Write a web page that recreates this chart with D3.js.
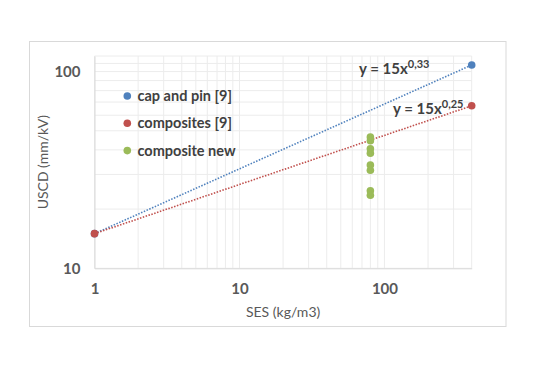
<!DOCTYPE html>
<html>
<head>
<meta charset="utf-8">
<script src="https://cdn.jsdelivr.net/npm/d3@7"></script>
<style>
  body { margin: 0; background: #fff; }
  text { font-family: Lato, "Open Sans", sans-serif; }
</style>
</head>
<body>
<div id="chart"></div>
<script>
// datos
const xTicks = [1, 10, 100];
const yTicks = [10, 100];

const capPinX = [1, 400];
const capPinY = [15, 108];

const compX = [1, 400];
const compY = [15, 67];

const newX = [80, 80, 80, 80, 80, 80, 80, 80];
const newY = [46.5, 44.5, 40.5, 38.5, 33.5, 31.5, 24.8, 23.5];

const legendNames = ["cap and pin [9]", "composites [9]", "composite new"];
const COLORS = ["#4F81BD", "#C0504D", "#9BBB59"];

// Dimensiones
const width = 538;
const height = 380;
const plot = { left: 94.5, right: 471.7, top: 56, bottom: 268.3 };

const svg = d3.select("#chart")
    .append("svg")
    .attr("width", width)
    .attr("height", height);

// borde del grafico
svg.append("rect")
    .attr("x", 29.5).attr("y", 41.5)
    .attr("width", 476.5).attr("height", 285)
    .attr("fill", "#fff")
    .attr("stroke", "#d9d9d9");

const x = d3.scaleLog().domain([1, 400]).range([plot.left, plot.right]);
const y = d3.scaleLog().domain([10, 120]).range([plot.bottom, plot.top]);

// gridlines
const xGrid = [];
for (let d = 1; d <= 100; d *= 10) {
    for (let k = 1; k <= 9; k++) if (d * k <= 400) xGrid.push(d * k);
}
const yGrid = d3.range(10, 121, 10);

svg.append("g")
    .selectAll("line")
    .data(xGrid)
    .join("line")
    .attr("x1", d => x(d)).attr("x2", d => x(d))
    .attr("y1", plot.top).attr("y2", plot.bottom)
    .attr("stroke", "#ececec");

svg.append("g")
    .selectAll("line")
    .data(yGrid)
    .join("line")
    .attr("x1", plot.left).attr("x2", plot.right)
    .attr("y1", d => y(d)).attr("y2", d => y(d))
    .attr("stroke", "#ececec");

// ejes
const ejeX = d3.axisBottom(x).tickValues(xTicks).tickFormat(d3.format("d")).tickSize(0).tickPadding(15);
const ejeY = d3.axisLeft(y).tickValues(yTicks).tickFormat(d3.format("d")).tickSize(0).tickPadding(14);

const gx = svg.append("g")
    .attr("transform", `translate(0, ${plot.bottom})`)
    .call(ejeX);
gx.select(".domain").attr("stroke", "#d9d9d9");
gx.selectAll("text").attr("fill", "#595959").style("font-size", "15px").style("font-weight", "bold")
    .style("font-family", "Lato, sans-serif");

const gy = svg.append("g")
    .attr("transform", `translate(${plot.left}, 0)`)
    .call(ejeY);
gy.select(".domain").attr("stroke", "#d9d9d9");
gy.selectAll("text").attr("fill", "#595959").style("font-size", "15px").style("font-weight", "bold")
    .style("font-family", "Lato, sans-serif");

// titulos de ejes
svg.append("text")
    .attr("x", (plot.left + plot.right) / 2)
    .attr("y", 317)
    .attr("text-anchor", "middle")
    .attr("fill", "#595959")
    .style("font-size", "14px")
    .text("SES (kg/m3)");

svg.append("text")
    .attr("transform", `translate(48, ${(plot.top + plot.bottom) / 2}) rotate(-90)`)
    .attr("text-anchor", "middle")
    .attr("fill", "#595959")
    .style("font-size", "14px")
    .text("USCD (mm/kV)");

// lineas de tendencia (potencia, recta en log-log)
const linea = d3.line().x(d => x(d[0])).y(d => y(d[1]));
const trends = [
    { pts: d3.zip(capPinX, capPinY), color: COLORS[0] },
    { pts: d3.zip(compX, compY), color: COLORS[1] }
];
svg.append("g")
    .selectAll("path")
    .data(trends)
    .join("path")
    .attr("d", d => linea(d.pts))
    .attr("fill", "none")
    .attr("stroke", d => d.color)
    .attr("stroke-width", 1.6)
    .attr("stroke-dasharray", "1.5 1.5");

// puntos
const series = [
    { xs: newX, ys: newY, color: COLORS[2] },
    { xs: capPinX, ys: capPinY, color: COLORS[0] },
    { xs: compX, ys: compY, color: COLORS[1] }
];
series.forEach(s => {
    svg.append("g")
        .selectAll("circle")
        .data(d3.zip(s.xs, s.ys))
        .join("circle")
        .attr("cx", d => x(d[0]))
        .attr("cy", d => y(d[1]))
        .attr("r", 3.8)
        .attr("fill", s.color);
});

// etiquetas de tendencia
function trendLabel(px, py, coef) {
    const t = svg.append("text")
        .attr("x", px).attr("y", py)
        .attr("fill", "#404040")
        .style("font-size", "15px")
        .style("font-weight", "bold");
    t.append("tspan").text("y = 15x");
    t.append("tspan").attr("dy", -6).style("font-size", "11px").text(coef);
}
trendLabel(359, 74, "0,33");
trendLabel(393, 114, "0,25");

// leyenda
const leyenda = svg.append("g");
legendNames.forEach((name, i) => {
    const ly = 96 + i * 27.3;
    leyenda.append("circle")
        .attr("cx", 127.3).attr("cy", ly).attr("r", 3.8)
        .attr("fill", COLORS[i]);
    leyenda.append("text")
        .attr("x", 137.5).attr("y", ly + 5)
        .attr("fill", "#404040")
        .style("font-size", "14.5px")
        .style("font-weight", "bold")
        .text(name);
});
</script>
</body>
</html>
